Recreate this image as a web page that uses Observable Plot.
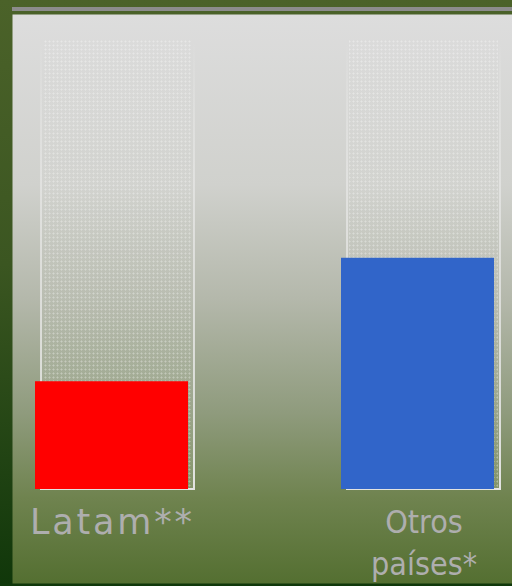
<!DOCTYPE html>
<html>
<head>
<meta charset="utf-8">
<script src="https://cdn.jsdelivr.net/npm/d3@7"></script>
<script src="https://cdn.jsdelivr.net/npm/@observablehq/plot@0.6"></script>
<style>
  html, body { margin: 0; padding: 0; background: #0f360a; }
  #chart svg {
    display: block;
    background:
      linear-gradient(#8c8c8c, #8c8c8c) 12px 7px / 500px 4px no-repeat,
      linear-gradient(#10380b, #10380b) 0 583px / 512px 3px no-repeat,
      linear-gradient(#4b6229 0%, #3b5621 45%, #10370a 100%);
  }
</style>
</head>
<body>
<div id="chart"></div>
<script>
const categories = ["Latam**", "Otros países*"];
const values = [24, 51.5];
const colors = ["#ff0000", "#3165c9"];
const maxValue = 100;

const data = categories.map((c, i) => ({category: c, value: values[i], color: colors[i], max: maxValue}));

const svg = Plot.plot({
  width: 512,
  height: 586,
  marginLeft: 12,
  marginTop: 14,
  marginRight: 0,
  marginBottom: 3,
  x: {domain: categories, range: [40, 500], paddingInner: 0.5016, paddingOuter: 0, axis: null},
  y: {domain: [0, maxValue], range: [489, 40], axis: null},
  color: {type: "identity"},
  marks: [
    Plot.frame({fill: "url(#bg)", stroke: "none"}),
    Plot.barY(data, {x: "category", y: "max", fill: "url(#colgrad)", stroke: "url(#colstroke)", strokeWidth: 2}),
    Plot.barY(data, {x: "category", y: "max", fill: "url(#dots)", insetLeft: 2, insetRight: 2}),
    Plot.barY(data, {x: "category", y: "value", fill: "color", dx: -6}),
    Plot.text(data.filter(d => d.category === "Latam**"), {
      x: "category", y: 0, text: "category", dx: -88, dy: 20,
      lineAnchor: "top", textAnchor: "start", fontSize: 35, fill: "#aeaeae",
      fontFamily: "'DejaVu Sans', sans-serif"
    }),
    Plot.text(data.filter(d => d.category !== "Latam**"), {
      x: "category", y: 0, text: d => d.category.replace(" ", "\n"), dx: 0, dy: 14,
      lineAnchor: "top", lineHeight: 1.3, fontSize: 32, fill: "#aeaeae",
      fontFamily: "'Liberation Sans Narrow', 'DejaVu Sans Condensed', sans-serif"
    })
  ]
});

d3.select(svg).selectAll("text")
  .filter(function() { return this.textContent === "Latam**"; })
  .attr("letter-spacing", 2.8);

d3.select(svg).insert("defs", ":first-child").html(`
  <linearGradient id="bg" x1="0" y1="0" x2="0" y2="1">
    <stop offset="0" stop-color="#dddddd"/>
    <stop offset="0.3" stop-color="#d0d1cd"/>
    <stop offset="0.5" stop-color="#b4b8ab"/>
    <stop offset="0.7" stop-color="#8f9b7d"/>
    <stop offset="0.85" stop-color="#6f834f"/>
    <stop offset="1" stop-color="#546f31"/>
  </linearGradient>
  <linearGradient id="colgrad" x1="0" y1="0" x2="0" y2="1">
    <stop offset="0" stop-color="#ffffff" stop-opacity="0"/>
    <stop offset="1" stop-color="#ffffff" stop-opacity="0.12"/>
  </linearGradient>
  <linearGradient id="colstroke" x1="0" y1="0" x2="0" y2="1">
    <stop offset="0" stop-color="#ffffff" stop-opacity="0"/>
    <stop offset="0.4" stop-color="#eeeeee" stop-opacity="0.6"/>
    <stop offset="1" stop-color="#e8e8e8" stop-opacity="0.95"/>
  </linearGradient>
  <pattern id="dots" width="4" height="4" patternUnits="userSpaceOnUse">
    <rect x="1" y="0" width="1" height="3" fill="#ffffff" fill-opacity="0.18"/>
    <rect x="0" y="1" width="3" height="1" fill="#ffffff" fill-opacity="0.18"/>
  </pattern>
`);

document.getElementById("chart").appendChild(svg);
</script>
</body>
</html>
